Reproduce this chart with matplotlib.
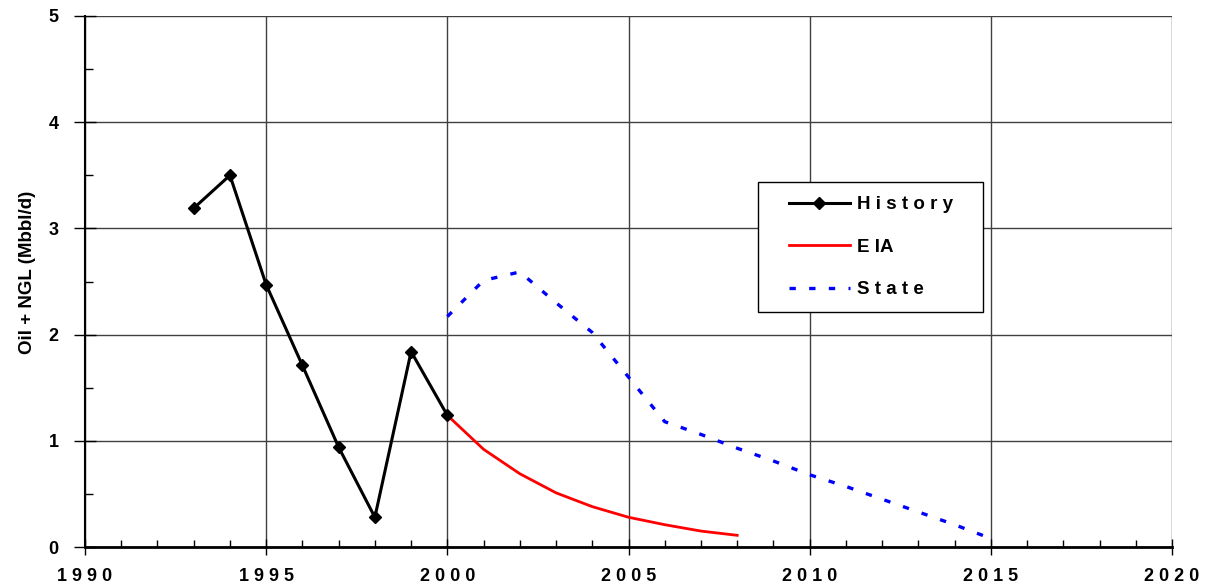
import matplotlib
matplotlib.use("Agg")
import matplotlib.pyplot as plt
from matplotlib.ticker import MultipleLocator
from matplotlib.legend_handler import HandlerLine2D

plt.rcParams['font.family'] = ['Liberation Sans', 'DejaVu Sans']

hist_years = [1993, 1994, 1995, 1996, 1997, 1998, 1999, 2000]
hist_vals = [3.19, 3.50, 2.47, 1.71, 0.94, 0.28, 1.84, 1.24]

eia_years = [2000, 2001, 2002, 2003, 2004, 2005, 2006, 2007, 2008]
eia_vals = [1.24, 0.92, 0.69, 0.51, 0.38, 0.28, 0.21, 0.15, 0.11]

state_years = list(range(2000, 2016))
state_vals = [2.17, 2.51, 2.59, 2.30, 2.02, 1.60, 1.18, 1.06, 0.93, 0.81,
              0.68, 0.57, 0.45, 0.33, 0.21, 0.08]

series_labels = ['H i s t o r y', 'E IA', 'S t a t e']
x_ticks = [1990, 1995, 2000, 2005, 2010, 2015, 2020]
y_ticks = [0, 1, 2, 3, 4, 5]


class OffsetLineHandler(HandlerLine2D):
    def __init__(self, offset=20, **kw):
        super().__init__(**kw)
        self.offset = offset

    def create_artists(self, legend, orig_handle, xdescent, ydescent,
                       width, height, fontsize, trans):
        return super().create_artists(legend, orig_handle,
                                      xdescent - self.offset, ydescent,
                                      width - self.offset, height,
                                      fontsize, trans)


fig = plt.figure(figsize=(12.12, 5.86), dpi=100)
ax = fig.add_axes([85/1212, 39/586, 1087/1212, 531/586])

l1, = ax.plot(hist_years, hist_vals, color='black', lw=2.2, marker='D', ms=6,
              label=series_labels[0], zorder=4)
l2, = ax.plot(eia_years, eia_vals, color='red', lw=2, label=series_labels[1], zorder=3)
l3, = ax.plot(state_years, state_vals, color='blue', lw=2.4, dashes=(1.9, 4.0),
              label=series_labels[2], zorder=3)

ax.set_xlim(1990, 2020)
ax.set_ylim(0, 5)
ax.set_xticks(x_ticks)
ax.set_xticklabels([' '.join(str(y)) for y in x_ticks], fontsize=13, fontweight='bold')
ax.set_yticks(y_ticks)
ax.set_yticklabels([str(v) for v in y_ticks], fontsize=13, fontweight='bold')
ax.xaxis.set_minor_locator(MultipleLocator(1))
ax.yaxis.set_minor_locator(MultipleLocator(0.5))

ax.tick_params(axis='x', which='major', direction='inout', length=12, width=1, pad=9)
ax.tick_params(axis='x', which='minor', direction='in', length=5, width=1)
ax.tick_params(axis='y', which='major', direction='inout', length=16, width=1, pad=11)
ax.tick_params(axis='y', which='minor', direction='in', length=6, width=1)

ax.grid(True, which='major', color='#404040', lw=1)
for s in ['top', 'right']:
    ax.spines[s].set_visible(False)
ax.spines['left'].set_linewidth(1.5)
ax.spines['bottom'].set_linewidth(2)

ax.set_ylabel('Oil + NGL (Mbbl/d)', fontsize=13.5, fontweight='bold', va='center')
ax.yaxis.set_label_coords(-0.0525, 0.517)

x0 = (758 - 85) / 1087
y0 = (547 - 309) / 531
w = (983 - 758) / 1087
h = (309 - 182) / 531
leg = ax.legend(handles=[l1, l2, l3], loc='upper left', bbox_to_anchor=(x0, y0, w, h),
                mode='expand', frameon=True, fancybox=False, edgecolor='black',
                framealpha=1, prop={'weight': 'bold', 'size': 13.5},
                handlelength=4.16, borderpad=0.75, labelspacing=1.36,
                handletextpad=0.37, borderaxespad=0,
                handler_map={l: OffsetLineHandler(offset=12) for l in [l1, l2, l3]})
leg.get_frame().set_linewidth(1)

fig.savefig('out.png', dpi=100)
